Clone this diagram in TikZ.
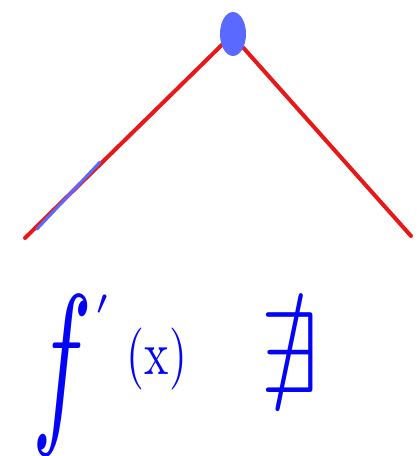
\documentclass[tikz,border=0pt]{standalone}
\usepackage{amssymb}
\usetikzlibrary{shapes.geometric}
\definecolor{inkred}{RGB}{232,24,24}
\definecolor{inkblue}{RGB}{5,5,245}
\definecolor{dotblue}{RGB}{90,105,255}
\begin{document}
\begin{tikzpicture}[x=1pt,y=-1pt,
  redline/.style={draw=inkred,line width=4pt,line cap=round,line join=miter},
  blueseg/.style={draw=dotblue,line width=3pt,line cap=round},
  ink/.style={text=inkblue,inner sep=0pt}]
\useasboundingbox (0,0) rectangle (417,456);
\coordinate (L) at (25,238);
\coordinate (A) at (232,35);
\coordinate (R) at (411,236);
\draw[redline] (L) -- (A) -- (R);
\coordinate (b1) at (37,229);
\coordinate (b2) at (100,162);
\draw[blueseg] (b1) -- (b2);
\node[ellipse,fill=dotblue,minimum width=26pt,minimum height=44pt,inner sep=0pt] (dot) at (233,34) {};
\node[ink,xscale=10,yscale=18] (f) at (62,375) {$f$};
\node[ink,scale=5] (p) at (104,314) {$'$};
\node[ink,xscale=4.6,yscale=6.2] (x) at (157,359) {(x)};
\node[ink,xscale=10.5,yscale=11.5] (ne) at (290,353) {$\nexists$};
\end{tikzpicture}
\end{document}
